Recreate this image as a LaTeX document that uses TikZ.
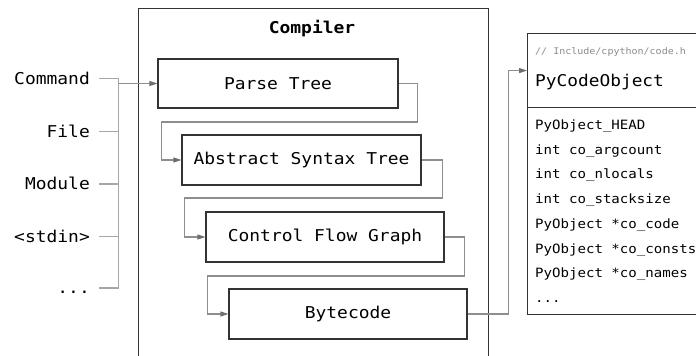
\documentclass[tikz,border=0pt]{standalone}
\usepackage{fontspec}
\setmonofont[FakeStretch=1.1]{DejaVu Sans Mono}
\usetikzlibrary{arrows.meta}

\definecolor{boxline}{HTML}{333333}
\definecolor{linkgray}{HTML}{8E8E8E}
\definecolor{railgray}{HTML}{A6A6A6}
\definecolor{tipgray}{HTML}{6E6E6E}
\definecolor{notegray}{HTML}{8A8A8A}

\newcommand{\mainsize}{\fontsize{16.3}{18}\selectfont}

\begin{document}
\begin{tikzpicture}[x=1pt, y=-1pt,
  stagebox/.style={draw=boxline, line width=1.1pt, minimum width=239pt,
    minimum height=50pt, inner sep=0pt, font=\ttfamily\mainsize},
  panel/.style={draw=boxline, line width=1.1pt, inner sep=0pt, anchor=north west},
  source/.style={anchor=east, inner sep=0pt, text height=11.9pt, text depth=0pt,
    font=\ttfamily\mainsize},
  railline/.style={draw=railgray, line width=1.2pt},
  flow/.style={draw=linkgray, line width=1.2pt,
    -{Triangle[length=8pt, width=5pt, color=tipgray]}},
  field/.style={anchor=base west, inner sep=0pt, font=\ttfamily\fontsize{12.8}{15}\selectfont},
]
\useasboundingbox (0,0) rectangle (696,356);
\clip (0,0) rectangle (696,356);

% compiler frame and its title
\node[panel, minimum width=350pt, minimum height=360pt] (compiler) at (138,8) {};
\node[font=\ttfamily\bfseries\mainsize] (title) at (312,29) {Compiler};

% compiler stages
\node[stagebox, minimum width=240pt, minimum height=49pt] (parse) at (278,83.5) {Parse Tree};
\node[stagebox] (ast) at (301.5,160) {Abstract Syntax Tree};
\node[stagebox, minimum width=238pt] (cfg) at (325,237) {Control Flow Graph};
\node[stagebox, minimum width=238pt] (bc) at (348,314) {Bytecode};

% input sources
\node[source] (cmd) at (90,78.5) {Command};
\node[source] (file) at (90,131.5) {File};
\node[source] (module) at (90,184) {Module};
\node[source] (stdin) at (90,236.5) {<stdin>};
\node[source] (more) at (90,288) {...};
\coordinate (rail) at (118.5,0);

\draw[railline] ([xshift=9pt]cmd.east) -- (cmd.east -| rail)
  -- (more.east -| rail) -- ([xshift=9pt]more.east);
\foreach \src in {file, module, stdin}
  \draw[railline] ([xshift=9pt]\src.east) -- (\src.east -| rail);
\draw[flow] (parse.west -| rail) -- (parse.west);

% stage to stage
\draw[flow] (parse.east) -- ++(19,0) -- ++(0,38.5) -| ([xshift=-20pt]ast.west) -- (ast.west);
\draw[flow] (ast.east) -- ++(21,0) -- ++(0,38) -| ([xshift=-21pt]cfg.west) -- (cfg.west);
\draw[flow] (cfg.east) -- ++(20,0) -- ++(0,39) -| ([xshift=-21pt]bc.west) -- (bc.west);

% code object structure
\node[panel, minimum width=190pt, minimum height=74pt] (hdr) at (527,33) {};
\node[panel, minimum width=190pt, minimum height=207pt] (fields) at (527,107) {};
\node[anchor=base west, inner sep=0pt, text=notegray,
  font=\ttfamily\fontsize{9.1}{11}\selectfont] (path) at (535,54) {// Include/cpython/code.h};
\node[anchor=base west, inner sep=0pt, font=\ttfamily\fontsize{16.2}{18}\selectfont]
  (pco) at (535,86) {PyCodeObject};

\node[field] (f1) at (535,129.5) {PyObject\_HEAD};
\node[field] (f2) at (535,154.2) {int co\_argcount};
\node[field] (f3) at (535,178.9) {int co\_nlocals};
\node[field] (f4) at (535,203.6) {int co\_stacksize};
\node[field] (f5) at (535,228.3) {PyObject *co\_code};
\node[field] (f6) at (535,253.0) {PyObject *co\_consts};
\node[field] (f7) at (535,277.7) {PyObject *co\_names};
\node[field] (f8) at (535,302.4) {...};

\draw[flow] (bc.east) -- ++(41,0) |- (hdr.west);
\end{tikzpicture}
\end{document}
